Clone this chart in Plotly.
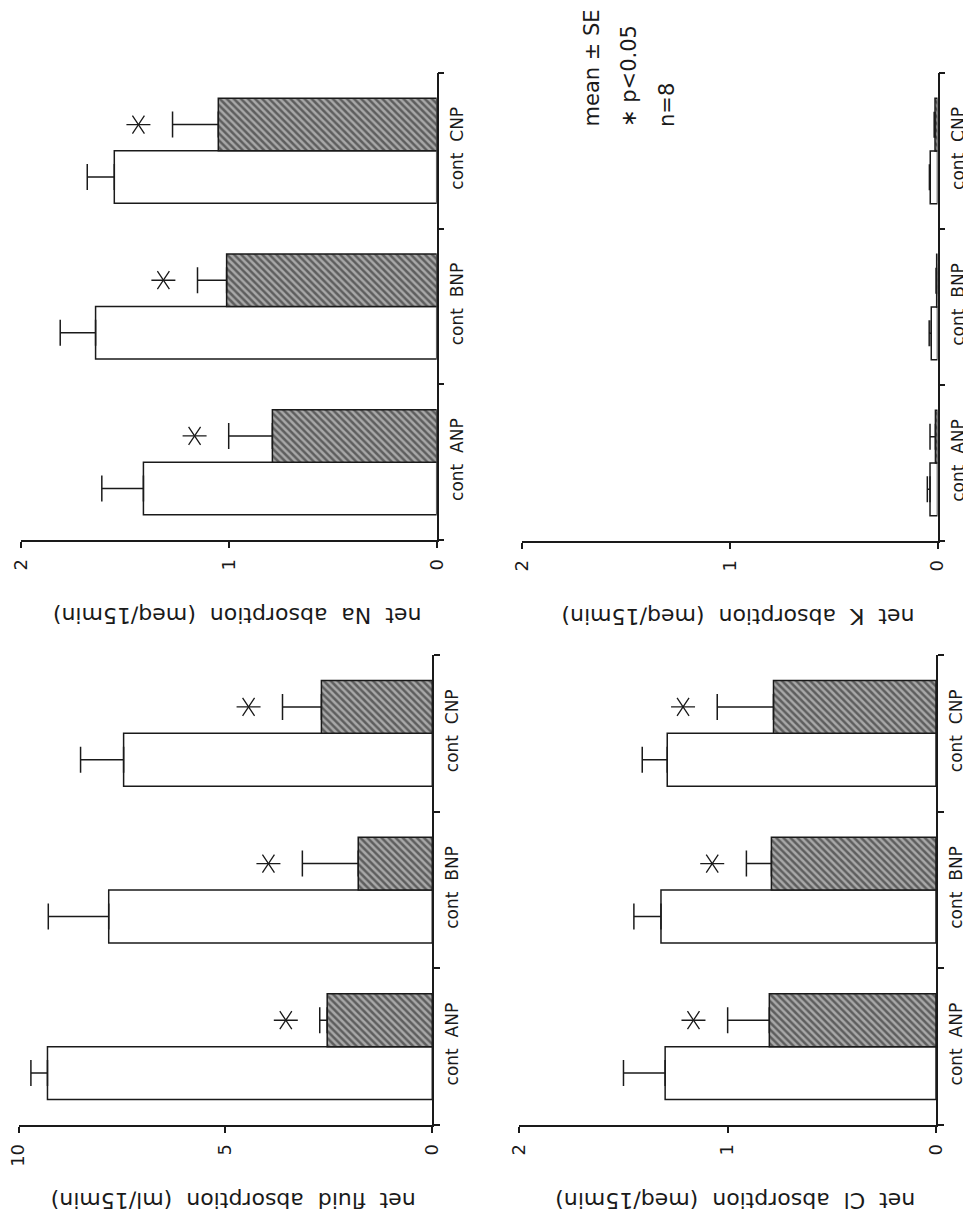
import plotly.graph_objects as go

# ---------------- data ----------------
groups = ["ANP", "BNP", "CNP"]
tick_labels = ["cont  ANP", "cont  BNP", "cont  CNP"]

fluid_cont = [9.30, 7.82, 7.46]
fluid_cont_se = [0.40, 1.46, 1.04]
fluid_drug = [2.54, 1.79, 2.68]
fluid_drug_se = [0.18, 1.35, 0.94]
fluid_sig = [True, True, True]

na_cont = [1.41, 1.64, 1.55]
na_cont_se = [0.20, 0.17, 0.13]
na_drug = [0.79, 1.01, 1.05]
na_drug_se = [0.21, 0.14, 0.22]
na_sig = [True, True, True]

cl_cont = [1.30, 1.32, 1.29]
cl_cont_se = [0.20, 0.13, 0.12]
cl_drug = [0.80, 0.79, 0.78]
cl_drug_se = [0.20, 0.12, 0.27]
cl_sig = [True, True, True]

k_cont = [0.036, 0.030, 0.035]
k_cont_se = [0.013, 0.010, 0.004]
k_drug = [0.010, 0.004, 0.012]
k_drug_se = [0.026, 0.003, 0.004]
k_sig = [False, False, False]

fluid_ticks = [0, 5, 10]
ion_ticks = [0, 1, 2]

titles = {
    "fluid": "net  fluid  absorption  (ml/15min)",
    "na": "net  Na  absorption  (meq/15min)",
    "cl": "net  Cl  absorption  (meq/15min)",
    "k": "net  K  absorption  (meq/15min)",
}
legend_lines = ["mean ± SE", "∗ p<0.05", "n=8"]

# ---------------- layout helpers ----------------
PAGE_W, PAGE_H = 971, 1226
OFF = 8                      # browser body margin
W, H = PAGE_W - OFF, PAGE_H - OFF
FONT = "DejaVu Sans"
INK = "#1a1a1a"


def fx(px):
    return (px - OFF) / W


def fy(py):
    return 1 - (py - OFF) / H


panels = [
    dict(key="na", cont=na_cont, cse=na_cont_se, drug=na_drug, dse=na_drug_se, sig=na_sig,
         vmax=2, ticks=ion_ticks, px=(20.7, 436.7), py=(73, 540), n=1),
    dict(key="k", cont=k_cont, cse=k_cont_se, drug=k_drug, dse=k_drug_se, sig=k_sig,
         vmax=2, ticks=ion_ticks, px=(522, 937.5), py=(73, 541), n=2),
    dict(key="fluid", cont=fluid_cont, cse=fluid_cont_se, drug=fluid_drug, dse=fluid_drug_se, sig=fluid_sig,
         vmax=10, ticks=fluid_ticks, px=(18.5, 432.3), py=(655, 1125), n=3),
    dict(key="cl", cont=cl_cont, cse=cl_cont_se, drug=cl_drug, dse=cl_drug_se, sig=cl_sig,
         vmax=2, ticks=ion_ticks, px=(519.3, 936), py=(655, 1125), n=4),
]

pos = list(range(len(groups)))
BW = 0.3375

fig = go.Figure()
layout_axes = {}
annotations = []

for p in panels:
    n = p["n"]
    xa = "x" if n == 1 else f"x{n}"
    ya = "y" if n == 1 else f"y{n}"
    xkey = "xaxis" if n == 1 else f"xaxis{n}"
    ykey = "yaxis" if n == 1 else f"yaxis{n}"

    fig.add_trace(go.Bar(
        orientation="h", x=p["cont"], y=pos, width=BW, offset=-BW,
        xaxis=xa, yaxis=ya, showlegend=False,
        marker=dict(color="white", line=dict(color=INK, width=1.5)),
        error_x=dict(type="data", symmetric=False, array=p["cse"], arrayminus=[0] * 3,
                     color=INK, thickness=1.5, width=13),
    ))
    fig.add_trace(go.Bar(
        orientation="h", x=p["drug"], y=pos, width=BW, offset=0,
        xaxis=xa, yaxis=ya, showlegend=False,
        marker=dict(color="#5e5e5e", line=dict(color=INK, width=1.5),
                    pattern=dict(shape="\\", bgcolor="#5e5e5e", fgcolor="#f2f2f2",
                                 size=5, solidity=0.5)),
        error_x=dict(type="data", symmetric=False, array=p["dse"], arrayminus=[0] * 3,
                     color=INK, thickness=1.5, width=13),
    ))

    # significance stars beyond the drug error bars
    sx, sy = [], []
    for i, s in enumerate(p["sig"]):
        if s:
            sx.append(p["drug"][i] + p["dse"][i] + 0.082 * p["vmax"])
            sy.append(pos[i] + BW / 2)
    if sx:
        for sym in ("y-left-open", "y-right-open"):
            fig.add_trace(go.Scatter(
                x=sx, y=sy, mode="markers", xaxis=xa, yaxis=ya, showlegend=False,
                marker=dict(symbol=sym, size=15, color=INK, line=dict(color=INK, width=1.3)),
            ))

    xd = [fx(p["px"][0]), fx(p["px"][1])]
    yd = [fy(p["py"][1]), fy(p["py"][0])]

    layout_axes[xkey] = dict(
        domain=xd, range=[p["vmax"], 0], anchor=ya, automargin=False,
        showline=True, linecolor=INK, linewidth=1.5,
        ticks="outside", ticklen=6, tickwidth=1.5, tickcolor=INK,
        tickvals=p["ticks"], ticktext=[str(t) for t in p["ticks"]],
        tickangle=-90, tickfont=dict(family=FONT, size=18, color=INK),
        ticklabelstandoff=4, ticklabeloverflow="allow",
        showgrid=False, zeroline=False, fixedrange=True,
    )
    layout_axes[ykey] = dict(
        domain=yd, range=[-0.5, 2.5], anchor=xa, side="right", automargin=False,
        showline=True, linecolor=INK, linewidth=1.5,
        tickvals=pos, ticktext=tick_labels, ticks="",
        tickangle=-90, tickfont=dict(family=FONT, size=17, color=INK),
        ticklabelstandoff=4, ticklabeloverflow="allow",
        minor=dict(tickvals=[-0.5, 0.5, 1.5, 2.5], ticks="outside", ticklen=6,
                   tickwidth=1.5, tickcolor=INK, showgrid=False),
        showgrid=False, zeroline=False, fixedrange=True,
    )

    annotations.append(dict(
        text=titles[p["key"]], textangle=180, showarrow=False,
        xref="paper", yref="paper",
        x=fx((p["px"][0] + p["px"][1]) / 2 + 8),
        y=fy(p["py"][1] + 76),
        xanchor="center", yanchor="middle",
        font=dict(family=FONT, size=22, color=INK),
    ))

for j, line in enumerate(legend_lines):
    annotations.append(dict(
        text=line, textangle=-90, showarrow=False,
        xref="paper", yref="paper",
        x=fx(591 + 38 * j), y=fy(129),
        xanchor="center", yanchor="bottom",
        font=dict(family=FONT, size=21, color=INK),
    ))

fig.update_layout(
    width=W, height=H,
    margin=dict(l=0, r=0, t=0, b=0, autoexpand=False),
    paper_bgcolor="white", plot_bgcolor="white",
    barmode="overlay",
    annotations=annotations,
    **layout_axes,
)

fig.write_html("out.html")
